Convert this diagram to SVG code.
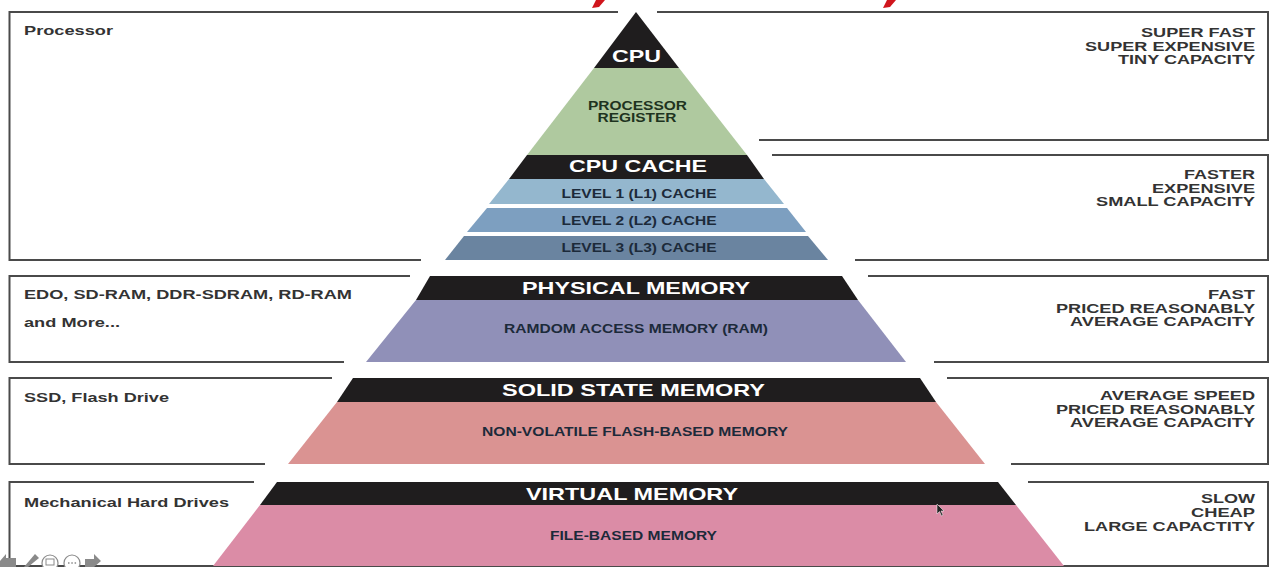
<svg xmlns="http://www.w3.org/2000/svg" width="1273" height="567" viewBox="0 0 1273 567">
<style>
text{font-family:"Liberation Sans",Arial,sans-serif;font-weight:700}
.b{fill:none;stroke:#4a4a4a;stroke-width:2}
.h{fill:#fff;font-size:17px;text-anchor:middle}
.l{fill:#1c2a3a;font-size:12.500px;text-anchor:middle}
.g{fill:#1e3320;font-size:12.500px;text-anchor:middle}
.s{fill:#333;font-size:13.500px}
.r{fill:#333;font-size:13.500px;text-anchor:end}
.k{fill:#1f1d1e}
.n{fill:#8a8a8a}
.c{fill:#fff;stroke:#8a8a8a;stroke-width:1.200}
</style>
<rect width="1273" height="567" fill="#fff"/>
<g id="connectors">
<path class="b" d="M618 12H9.500V260H421"/>
<path class="b" d="M657 12H1268V140H759"/>
<path class="b" d="M772 155H1268V260H855"/>
<path class="b" d="M410 276H9.500V362H344"/>
<path class="b" d="M868 276H1268V362H934"/>
<path class="b" d="M332 378H9.500V464H265"/>
<path class="b" d="M947 378H1268V464H1011"/>
<path class="b" d="M254 482H9.500V566H1268V482H1028"/>
</g>
<g id="red-marks" fill="#d0151c">
<path d="M592 8L596 0H605L599 7Z"/>
<path d="M883 8L887 0H896L890 7Z"/>
</g>
<g id="cpu">
<path class="k" d="M636 12L679 68H594Z"/>
<text class="h" x="636.500" y="62" textLength="49" lengthAdjust="spacingAndGlyphs">CPU</text>
</g>
<g id="processor-register">
<path fill="#afc99f" d="M594 68H679L747 155H527Z"/>
<text class="g" x="637.500" y="110" textLength="99" lengthAdjust="spacingAndGlyphs">PROCESSOR</text>
<text class="g" x="637" y="122" textLength="79" lengthAdjust="spacingAndGlyphs">REGISTER</text>
</g>
<g id="cpu-cache">
<path class="k" d="M527 155H747L764 179H509Z"/>
<text class="h" x="638" y="172" textLength="138" lengthAdjust="spacingAndGlyphs">CPU CACHE</text>
</g>
<g id="l1">
<path fill="#94b7ce" d="M509 179H764L784 204H489Z"/>
<text class="l" x="639" y="198" textLength="155" lengthAdjust="spacingAndGlyphs">LEVEL 1 (L1) CACHE</text>
</g>
<g id="l2">
<path fill="#7d9fc0" d="M487 208H787L806 232H467Z"/>
<text class="l" x="639" y="225" textLength="155" lengthAdjust="spacingAndGlyphs">LEVEL 2 (L2) CACHE</text>
</g>
<g id="l3">
<path fill="#6a84a0" d="M464 236H808L828 260H445Z"/>
<text class="l" x="639" y="252" textLength="155" lengthAdjust="spacingAndGlyphs">LEVEL 3 (L3) CACHE</text>
</g>
<g id="physical-memory">
<path class="k" d="M430 276H842L858 300H416Z"/>
<path fill="#9090b8" d="M416 300H858L906 362H366Z"/>
<text class="h" x="636" y="294" textLength="228" lengthAdjust="spacingAndGlyphs">PHYSICAL MEMORY</text>
<text class="l" x="636" y="333" textLength="264" lengthAdjust="spacingAndGlyphs">RAMDOM ACCESS MEMORY (RAM)</text>
</g>
<g id="solid-state-memory">
<path class="k" d="M353 378H920L936 402H337Z"/>
<path fill="#da9392" d="M337 402H936L985 464H288Z"/>
<text class="h" x="633.500" y="396" textLength="263" lengthAdjust="spacingAndGlyphs">SOLID STATE MEMORY</text>
<text class="l" x="635" y="436" textLength="306" lengthAdjust="spacingAndGlyphs">NON-VOLATILE FLASH-BASED MEMORY</text>
</g>
<g id="virtual-memory">
<path class="k" d="M277 482H998L1016 505H260Z"/>
<path fill="#db8ca6" d="M260 505H1016L1064 566H213Z"/>
<text class="h" x="632" y="500" textLength="212" lengthAdjust="spacingAndGlyphs">VIRTUAL MEMORY</text>
<text class="l" x="633.500" y="540" textLength="167" lengthAdjust="spacingAndGlyphs">FILE-BASED MEMORY</text>
</g>
<g id="left-labels">
<text class="s" x="24" y="35" textLength="89" lengthAdjust="spacingAndGlyphs">Processor</text>
<text class="s" x="24" y="299" textLength="328" lengthAdjust="spacingAndGlyphs">EDO, SD-RAM, DDR-SDRAM, RD-RAM</text>
<text class="s" x="24" y="327" textLength="96" lengthAdjust="spacingAndGlyphs">and More...</text>
<text class="s" x="24" y="402" textLength="145" lengthAdjust="spacingAndGlyphs">SSD, Flash Drive</text>
<text class="s" x="24" y="507" textLength="205" lengthAdjust="spacingAndGlyphs">Mechanical Hard Drives</text>
</g>
<g id="right-labels">
<text class="r" x="1255" y="37" textLength="114" lengthAdjust="spacingAndGlyphs">SUPER FAST</text>
<text class="r" x="1255" y="50.500" textLength="170" lengthAdjust="spacingAndGlyphs">SUPER EXPENSIVE</text>
<text class="r" x="1255" y="64" textLength="137" lengthAdjust="spacingAndGlyphs">TINY CAPACITY</text>
<text class="r" x="1255" y="179" textLength="71" lengthAdjust="spacingAndGlyphs">FASTER</text>
<text class="r" x="1255" y="192.500" textLength="103" lengthAdjust="spacingAndGlyphs">EXPENSIVE</text>
<text class="r" x="1255" y="206" textLength="159" lengthAdjust="spacingAndGlyphs">SMALL CAPACITY</text>
<text class="r" x="1255" y="299" textLength="47" lengthAdjust="spacingAndGlyphs">FAST</text>
<text class="r" x="1255" y="312.500" textLength="199" lengthAdjust="spacingAndGlyphs">PRICED REASONABLY</text>
<text class="r" x="1255" y="326" textLength="185" lengthAdjust="spacingAndGlyphs">AVERAGE CAPACITY</text>
<text class="r" x="1255" y="400" textLength="155" lengthAdjust="spacingAndGlyphs">AVERAGE SPEED</text>
<text class="r" x="1255" y="413.500" textLength="199" lengthAdjust="spacingAndGlyphs">PRICED REASONABLY</text>
<text class="r" x="1255" y="427" textLength="185" lengthAdjust="spacingAndGlyphs">AVERAGE CAPACITY</text>
<text class="r" x="1255" y="503" textLength="54" lengthAdjust="spacingAndGlyphs">SLOW</text>
<text class="r" x="1255" y="517" textLength="64" lengthAdjust="spacingAndGlyphs">CHEAP</text>
<text class="r" x="1255" y="531" textLength="171" lengthAdjust="spacingAndGlyphs">LARGE CAPACTITY</text>
</g>
<g id="cursor">
<path d="M937 504V514L939.500 511.500L941.500 516L943 515L941 511H944Z" fill="#222" stroke="#fff" stroke-width=".5"/>
</g>
<g id="slide-controls">
<path class="n" d="M0 561L6 554V558H16V567H0Z"/>
<path class="n" d="M24 567L35 554L39 558L28 567Z"/>
<circle class="c" cx="50" cy="563" r="8"/>
<rect x="46" y="559" width="8" height="6" fill="none" stroke="#8a8a8a"/>
<circle class="c" cx="72" cy="563" r="8"/>
<path d="M68 563h1.500M71.300 563h1.500M74.600 563h1.500" stroke="#8a8a8a" stroke-width="1.500" fill="none"/>
<path class="n" d="M85 559H94V554L101 561L94 567H85Z"/>
</g>
</svg>
